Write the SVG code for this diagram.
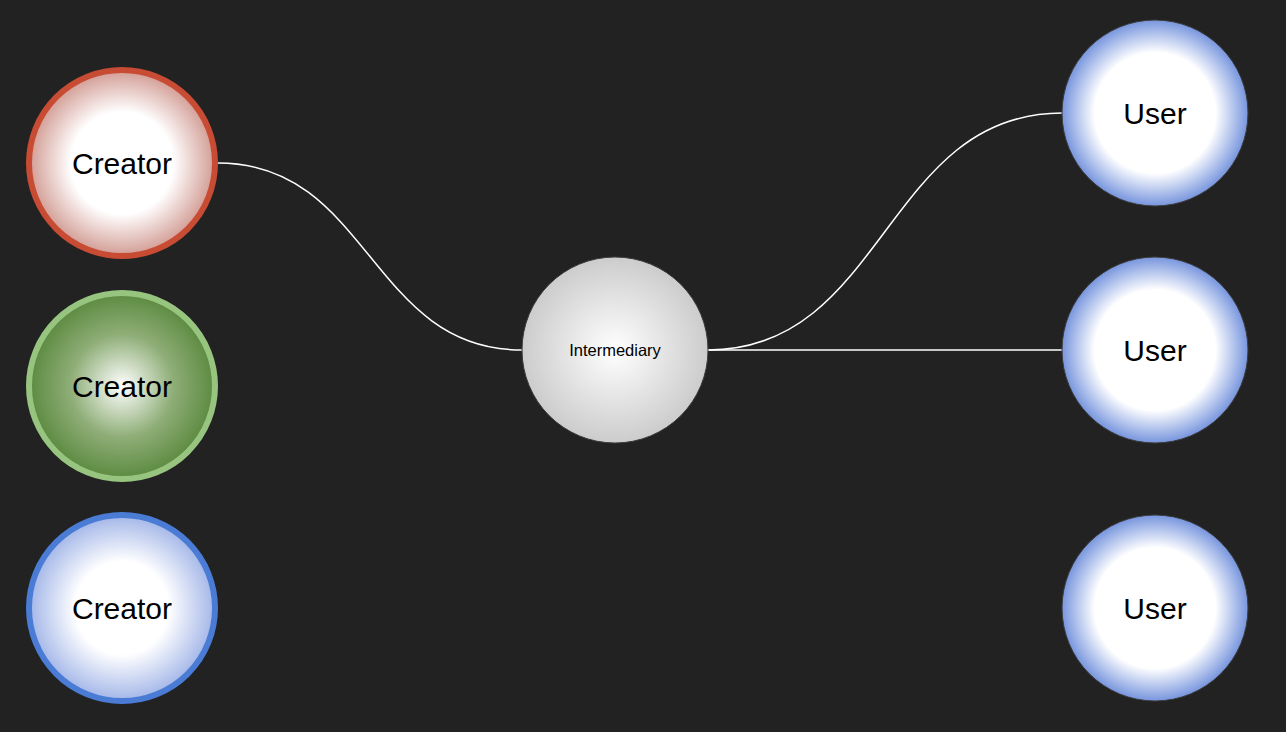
<svg xmlns="http://www.w3.org/2000/svg" width="1286" height="732" viewBox="0 0 1286 732">
<defs>
<radialGradient id="gRed" cx="50%" cy="50%" r="50%">
<stop offset="0" stop-color="#ffffff"/><stop offset="0.55" stop-color="#ffffff"/><stop offset="1" stop-color="#d29c94"/>
</radialGradient>
<radialGradient id="gGreen" cx="50%" cy="50%" r="50%">
<stop offset="0" stop-color="#ffffff"/><stop offset="0.55" stop-color="#8fae78"/><stop offset="1" stop-color="#5c8a40"/>
</radialGradient>
<radialGradient id="gBlueC" cx="50%" cy="50%" r="50%">
<stop offset="0" stop-color="#ffffff"/><stop offset="0.5" stop-color="#ffffff"/><stop offset="1" stop-color="#a3b6e8"/>
</radialGradient>
<radialGradient id="gUser" cx="50%" cy="50%" r="50%">
<stop offset="0" stop-color="#ffffff"/><stop offset="0.65" stop-color="#ffffff"/><stop offset="1" stop-color="#7896de"/>
</radialGradient>
<radialGradient id="gGray" cx="50%" cy="50%" r="50%">
<stop offset="0" stop-color="#ffffff"/><stop offset="1" stop-color="#cccccc"/>
</radialGradient>
</defs>
<style>
.lbl{font-family:"Liberation Sans",Arial,sans-serif;font-size:30px;fill:#000;text-anchor:middle}
.small{font-size:16.5px}
.conn{fill:none;stroke:#ffffff;stroke-width:1.5}
.user{fill:url(#gUser);stroke:#3a3a3a;stroke-width:1}
</style>
<rect width="1286" height="732" fill="#222222"/>
<g id="connectors">
<path class="conn" d="M218,163 C370,163 370,350 522,350"/>
<path class="conn" d="M708,350 C885,350 885,113 1062,113"/>
<path class="conn" d="M708,350 L1062,350"/>
</g>
<g id="creator-red">
<circle cx="122" cy="163" r="93" fill="url(#gRed)" stroke="#c84c34" stroke-width="6"/>
<text class="lbl" x="122" y="173.5">Creator</text>
</g>
<g id="creator-green">
<circle cx="122" cy="386" r="93" fill="url(#gGreen)" stroke="#97c47e" stroke-width="6"/>
<text class="lbl" x="122" y="396.5">Creator</text>
</g>
<g id="creator-blue">
<circle cx="122" cy="608" r="93" fill="url(#gBlueC)" stroke="#4a7cd5" stroke-width="6"/>
<text class="lbl" x="122" y="618.5">Creator</text>
</g>
<g id="intermediary">
<circle cx="615" cy="350" r="93" fill="url(#gGray)" stroke="#3a3a3a" stroke-width="1"/>
<text class="lbl small" x="615" y="356">Intermediary</text>
</g>
<g id="user-1">
<circle class="user" cx="1155" cy="113" r="93"/>
<text class="lbl" x="1155" y="123.5">User</text>
</g>
<g id="user-2">
<circle class="user" cx="1155" cy="350" r="93"/>
<text class="lbl" x="1155" y="360.5">User</text>
</g>
<g id="user-3">
<circle class="user" cx="1155" cy="608" r="93"/>
<text class="lbl" x="1155" y="618.5">User</text>
</g>
</svg>
